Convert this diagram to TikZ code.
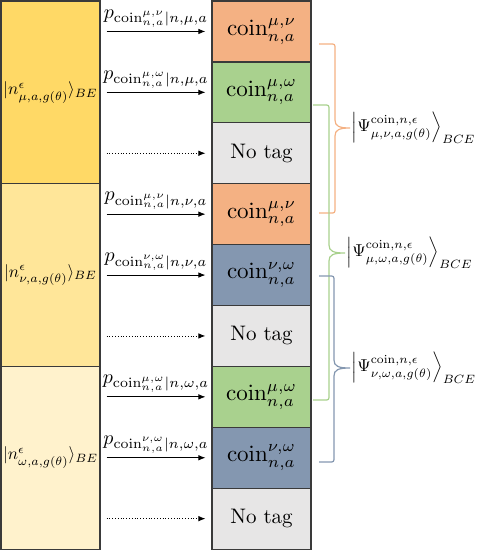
\documentclass[tikz,border=0pt]{standalone}
\usepackage{graphicx}
\usetikzlibrary{arrows.meta}
\definecolor{gold1}{HTML}{FFD966}
\definecolor{gold2}{HTML}{FFE699}
\definecolor{gold3}{HTML}{FFF2CC}
\definecolor{corange}{HTML}{F4B183}
\definecolor{cgreen}{HTML}{A9D18E}
\definecolor{cblue}{HTML}{8497B0}
\definecolor{cgray}{HTML}{E7E6E6}
\definecolor{bord}{HTML}{3A3A3A}
\newcommand{\kt}[1]{\scalebox{1.72}{$#1$}}
\newcommand{\pl}[1]{\scalebox{2.0}{$#1$}}
\newcommand{\cn}[1]{\scalebox{2.3}{$#1$}}
\newcommand{\ps}[1]{\scalebox{1.72}{$#1$}}
\begin{document}
\begin{tikzpicture}[x=1pt,y=-1pt,
  lbox/.style={draw=bord, line width=1.2pt, minimum width=99pt, minimum height=182.7pt, inner sep=0pt},
  cell/.style={draw=bord, line width=1.2pt, minimum width=99pt, minimum height=60.9pt, inner sep=0pt},
  arr/.style={-{Latex[length=7pt,width=5.5pt]}, line width=0.8pt, shorten <=6pt, shorten >=6pt},
  darr/.style={arr, dotted},
  plab/.style={above, inner sep=1pt, yshift=3pt},
  brc/.style={line width=1.2pt},
  psl/.style={anchor=west, inner sep=1.5pt},
]
\useasboundingbox (0,0) rectangle (480,550);
% left boxes
\node[lbox, fill=gold1] (L1) at (50.5,92.35) {\kt{|n^{\epsilon}_{\mu,a,g(\theta)}\rangle_{BE}}};
\node[lbox, fill=gold2] (L2) at (50.5,275.05) {\kt{|n^{\epsilon}_{\nu,a,g(\theta)}\rangle_{BE}}};
\node[lbox, fill=gold3] (L3) at (50.5,457.75) {\kt{|n^{\epsilon}_{\omega,a,g(\theta)}\rangle_{BE}}};
% cells
\node[cell, fill=corange] (c1) at (261.5,31.45) {\cn{\mathrm{coin}^{\mu,\nu}_{n,a}}};
\node[cell, fill=cgreen] (c2) at (261.5,92.35) {\cn{\mathrm{coin}^{\mu,\omega}_{n,a}}};
\node[cell, fill=cgray] (c3) at (261.5,153.25) {\scalebox{2.1}{No tag}};
\node[cell, fill=corange] (c4) at (261.5,214.15) {\cn{\mathrm{coin}^{\mu,\nu}_{n,a}}};
\node[cell, fill=cblue] (c5) at (261.5,275.05) {\cn{\mathrm{coin}^{\nu,\omega}_{n,a}}};
\node[cell, fill=cgray] (c6) at (261.5,335.95) {\scalebox{2.1}{No tag}};
\node[cell, fill=cgreen] (c7) at (261.5,396.85) {\cn{\mathrm{coin}^{\mu,\omega}_{n,a}}};
\node[cell, fill=cblue] (c8) at (261.5,457.75) {\cn{\mathrm{coin}^{\nu,\omega}_{n,a}}};
\node[cell, fill=cgray] (c9) at (261.5,518.65) {\scalebox{2.1}{No tag}};
% arrows
\draw[arr] (L1.east |- c1.west) -- (c1.west) node[midway,plab] {\pl{p_{\mathrm{coin}^{\mu,\nu}_{n,a}|n,\mu,a}}};
\draw[arr] (L1.east |- c2.west) -- (c2.west) node[midway,plab] {\pl{p_{\mathrm{coin}^{\mu,\omega}_{n,a}|n,\mu,a}}};
\draw[darr] (L1.east |- c3.west) -- (c3.west);
\draw[arr] (L2.east |- c4.west) -- (c4.west) node[midway,plab] {\pl{p_{\mathrm{coin}^{\mu,\nu}_{n,a}|n,\nu,a}}};
\draw[arr] (L2.east |- c5.west) -- (c5.west) node[midway,plab] {\pl{p_{\mathrm{coin}^{\nu,\omega}_{n,a}|n,\nu,a}}};
\draw[darr] (L2.east |- c6.west) -- (c6.west);
\draw[arr] (L3.east |- c7.west) -- (c7.west) node[midway,plab] {\pl{p_{\mathrm{coin}^{\mu,\omega}_{n,a}|n,\omega,a}}};
\draw[arr] (L3.east |- c8.west) -- (c8.west) node[midway,plab] {\pl{p_{\mathrm{coin}^{\nu,\omega}_{n,a}|n,\omega,a}}};
\draw[darr] (L3.east |- c9.west) -- (c9.west);
% braces
\draw[brc, corange] (319,44) -- (330,44) .. controls (335,44) .. (335,49) -- (335,120)
  .. controls (335,126) and (339,128) .. (350,128) coordinate (t1)
  .. controls (339,128) and (335,130) .. (335,136) -- (335,208)
  .. controls (335,213) .. (330,213) -- (319,213);
\draw[brc, cgreen] (313,105) -- (324,105) .. controls (329,105) .. (329,110) -- (329,245)
  .. controls (329,251) and (333,253) .. (345,253) coordinate (t2)
  .. controls (333,253) and (329,255) .. (329,261) -- (329,395)
  .. controls (329,400) .. (324,400) -- (313,400);
\draw[brc, cblue] (319,276) -- (329,276) .. controls (334,276) .. (334,281) -- (334,360)
  .. controls (334,366) and (338,368) .. (350,368) coordinate (t3)
  .. controls (338,368) and (334,370) .. (334,376) -- (334,457)
  .. controls (334,462) .. (329,462) -- (319,462);
\node[psl] (P1) at (t1) {\ps{\left|\Psi^{\mathrm{coin},n,\epsilon}_{\mu,\nu,a,g(\theta)}\right\rangle_{BCE}}};
\node[psl] (P2) at (t2) {\ps{\left|\Psi^{\mathrm{coin},n,\epsilon}_{\mu,\omega,a,g(\theta)}\right\rangle_{BCE}}};
\node[psl] (P3) at (t3) {\ps{\left|\Psi^{\mathrm{coin},n,\epsilon}_{\nu,\omega,a,g(\theta)}\right\rangle_{BCE}}};
\end{tikzpicture}
\end{document}
